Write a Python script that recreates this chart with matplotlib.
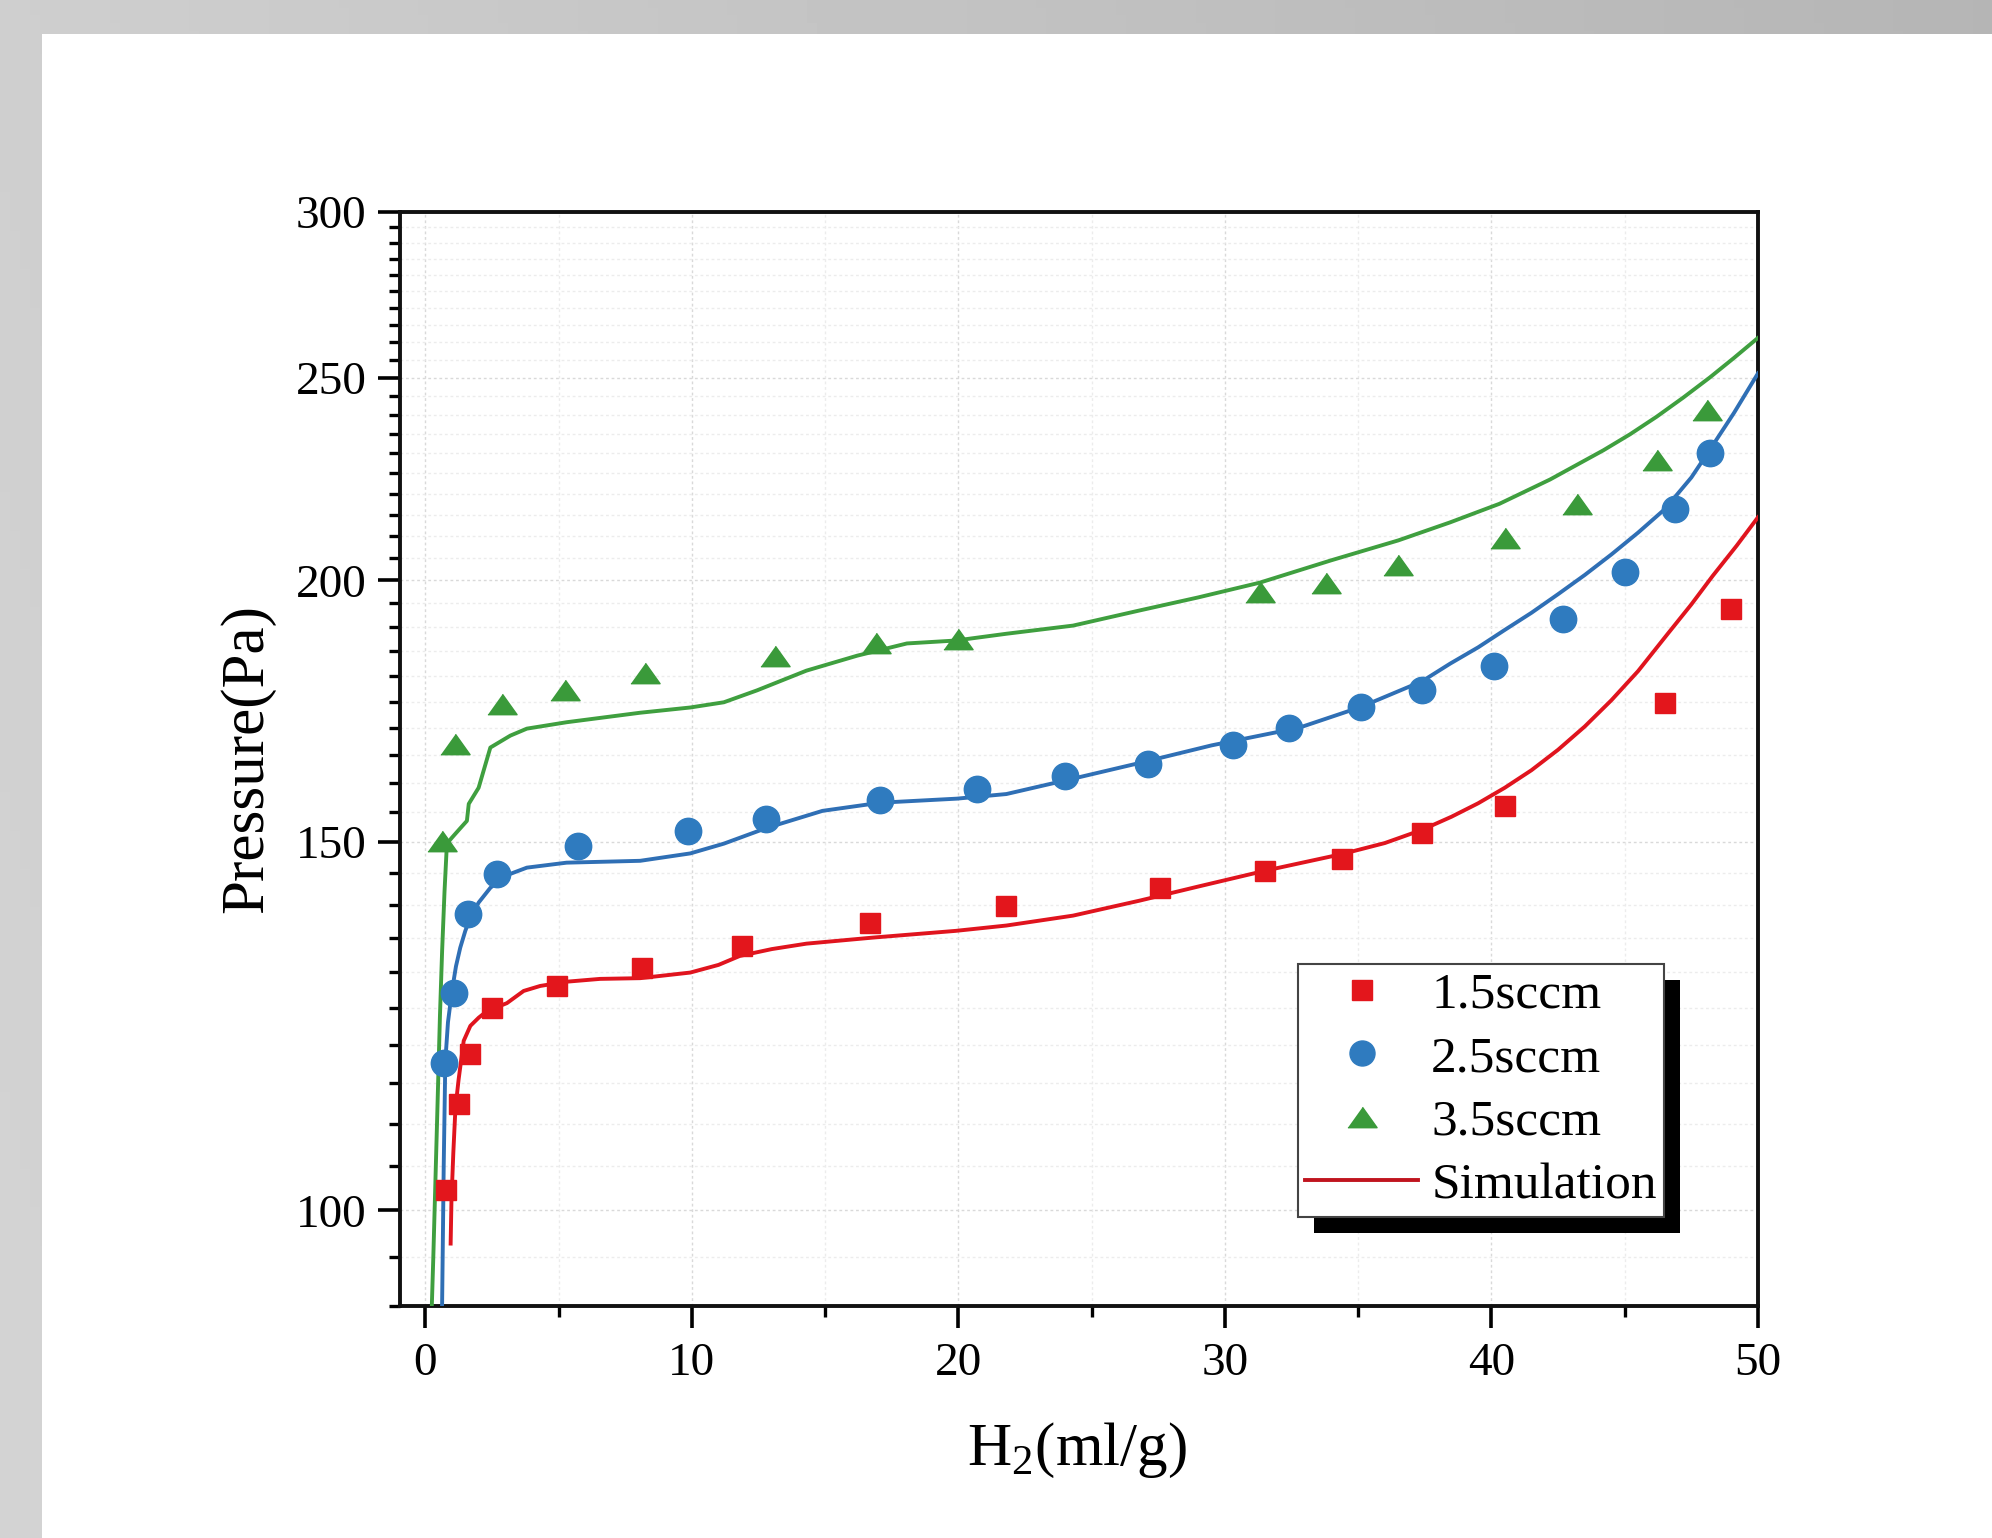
import numpy as np
import matplotlib
matplotlib.use("Agg")
import matplotlib.pyplot as plt
from matplotlib.patches import Rectangle
from matplotlib.lines import Line2D
from matplotlib.transforms import IdentityTransform
from matplotlib.ticker import FixedLocator, FuncFormatter, MultipleLocator

plt.rcParams['font.family'] = ['Liberation Serif', 'DejaVu Serif']
plt.rcParams['mathtext.fontset'] = 'custom'
plt.rcParams['mathtext.rm'] = 'Liberation Serif'

# measured points
red_x = [0.78, 1.25, 1.69, 2.5, 4.94, 8.13, 11.88, 16.69, 21.8, 27.57, 31.5, 34.4, 37.4, 40.5, 46.5, 49.0]
red_y = [102.3, 112.4, 118.7, 124.9, 128.0, 130.5, 133.8, 137.2, 139.8, 142.6, 145.3, 147.2, 151.5, 156.1, 174.7, 193.9]

blue_x = [0.69, 1.06, 1.62, 2.69, 5.74, 9.87, 12.8, 17.07, 20.7, 24.0, 27.1, 30.3, 32.4, 35.1, 37.4,
          40.1, 42.7, 45.0, 46.9, 48.2]
blue_y = [117.6, 127.0, 138.5, 144.8, 149.3, 151.8, 153.9, 157.1, 159.0, 161.3, 163.5, 166.9, 170.1, 173.9,
          177.2, 182.0, 191.6, 201.8, 216.3, 230.1]

green_x = [0.63, 1.13, 2.88, 5.25, 8.25, 13.13, 16.9, 20.0, 31.3, 33.8, 36.5, 40.5, 43.2, 46.2, 48.1]
green_y = [150.2, 167.1, 174.6, 177.2, 180.7, 184.1, 186.6, 187.6, 197.4, 199.4, 203.4, 209.5, 217.6, 228.3, 241.2]

# simulation curves
red_sim_x = [0.95, 0.98, 1.05, 1.13, 1.25, 1.44, 1.69, 2.0, 2.31, 3.06, 3.69, 4.31, 5.3, 6.56, 8.06, 9.94,
             11.0, 11.8, 13.0, 14.3, 16.8, 19.9, 21.8, 24.3, 26.8, 29.0, 31.5, 34.4, 36.0, 37.4, 38.5, 39.5,
             40.5, 41.5, 42.5, 43.5, 44.5, 45.5, 46.6, 47.5, 48.3, 49.2, 50.0]
red_sim_y = [96.4, 101.0, 106.5, 111.9, 115.5, 120.5, 122.5, 123.6, 124.5, 125.6, 127.3, 128.0, 128.6, 129.0,
             129.1, 129.9, 131.0, 132.3, 133.3, 134.1, 135.0, 136.0, 136.8, 138.3, 140.6, 142.8, 145.3, 148.0,
             149.8, 152.0, 154.2, 156.5, 159.2, 162.3, 166.0, 170.3, 175.3, 181.0, 188.5, 194.8, 201.0, 207.8,
             214.4]

blue_sim_x = [0.60, 0.63, 0.69, 0.75, 0.85, 1.0, 1.15, 1.31, 1.5, 1.69, 2.0, 2.44, 3.0, 3.81, 5.3, 8.06, 9.94,
              11.2, 12.8, 14.9, 17.07, 19.94, 21.8, 24.3, 26.8, 29.5, 32.8, 35.1, 37.4, 38.45, 39.5, 40.5,
              41.5, 42.5, 43.5, 44.5, 45.5, 46.5, 47.5, 48.2, 49.1, 50.0]
blue_sim_y = [88.0, 90.2, 105.0, 117.8, 123.0, 127.3, 130.8, 133.5, 136.0, 138.0, 140.3, 142.6, 144.5, 145.8,
              146.6, 146.9, 148.1, 149.7, 152.3, 155.2, 156.6, 157.3, 158.1, 160.8, 163.6, 166.8, 170.1, 174.0,
              179.0, 182.5, 185.8, 189.4, 193.0, 197.0, 201.2, 205.8, 210.8, 216.3, 224.0, 231.0, 240.5, 251.2]

green_sim_x = [0.22, 0.30, 0.44, 0.55, 0.63, 0.72, 0.81, 1.0, 1.3, 1.56, 1.63, 2.0, 2.44, 3.19, 3.81, 5.3, 8.06,
               9.94, 11.2, 12.44, 14.3, 16.2, 18.07, 19.9, 21.8, 24.3, 26.8, 29.0, 31.3, 34.0, 36.5, 38.45,
               40.3, 42.2, 44.2, 45.2, 46.2, 47.2, 48.2, 49.1, 50.0]
green_sim_y = [88.0, 95.0, 110.2, 124.0, 133.0, 142.0, 149.7, 150.7, 152.2, 153.5, 156.4, 159.2, 166.4, 168.6,
               169.9, 171.1, 172.9, 173.9, 174.9, 177.2, 181.1, 184.1, 186.6, 187.2, 188.6, 190.3, 193.5, 196.3,
               199.5, 204.5, 209.0, 213.2, 217.6, 223.5, 230.8, 234.9, 239.5, 244.6, 250.1, 255.5, 261.2]

labels = ['1.5sccm', '2.5sccm', '3.5sccm', 'Simulation']
y_major = [100, 150, 200, 250, 300]

W, H = 1992, 1538
fig = plt.figure(figsize=(W / 100, H / 100), dpi=100)

# grey backdrop with white panel
bg = fig.add_axes([0, 0, 1, 1], zorder=-10)
gx = np.linspace(0, 1, 200)
gy = np.linspace(0, 1, 200)
GX, GY = np.meshgrid(gx, gy)
grad = 0.81 - 0.10 * GX + 0.02 * GY
bg.imshow(grad, extent=[0, 1, 0, 1], aspect='auto', cmap='gray', vmin=0, vmax=1, origin='upper')
bg.add_patch(Rectangle((42 / W, 0), 1, 1 - 34 / H, color='white', lw=0))
bg.set_xlim(0, 1)
bg.set_ylim(0, 1)
bg.axis('off')

ax = fig.add_axes([400 / W, 1 - 1306 / H, 1358 / W, 1094 / H])
ax.set_facecolor('white')

red_c, blue_c, green_c = '#e3161c', '#2f7bbf', '#3a9a3a'
tri = [(-1, -0.7), (1, -0.7), (0, 0.7)]

ax.plot(red_sim_x, red_sim_y, color='#e0141e', lw=2.8, zorder=3)
ax.plot(blue_sim_x, blue_sim_y, color='#2f6fb5', lw=2.8, zorder=3)
ax.plot(green_sim_x, green_sim_y, color='#3f9f3f', lw=2.8, zorder=3)

ax.plot(red_x, red_y, ls='none', marker='s', ms=15, color=red_c, mec=red_c, zorder=4)
ax.plot(blue_x, blue_y, ls='none', marker='o', ms=19, color=blue_c, mec=blue_c, zorder=4)
ax.plot(green_x, green_y, ls='none', marker=tri, ms=21, color=green_c, mec=green_c, zorder=4)

ax.set_yscale('log')
ax.set_xlim(-0.95, 50)
ax.set_ylim(90, 300)

ax.xaxis.set_major_locator(MultipleLocator(10))
ax.xaxis.set_minor_locator(MultipleLocator(5))
ax.yaxis.set_major_locator(FixedLocator(y_major))
ax.yaxis.set_minor_locator(FixedLocator([v for v in range(90, 301, 5) if v not in y_major]))
ax.yaxis.set_major_formatter(FuncFormatter(lambda v, p: '%d' % v))
ax.yaxis.set_minor_formatter(FuncFormatter(lambda v, p: ''))

ax.tick_params(which='major', direction='out', length=16, width=2.6, labelsize=34, pad=8)
ax.tick_params(which='minor', direction='out', length=8, width=2.4)
ax.tick_params(axis='x', which='major', pad=10)

ax.grid(True, which='major', color='#d9d9d9', lw=1.0, ls=(0, (2, 2)))
ax.grid(True, which='minor', color='#ececec', lw=1.0, ls=(0, (2, 2)))
ax.set_axisbelow(True)

for s in ax.spines.values():
    s.set_linewidth(2.8)
    s.set_color('#111111')

ax.set_xlabel('H$_2$(ml/g)', fontsize=44)
ax.set_ylabel('Pressure(Pa)', fontsize=44)
ax.xaxis.set_label_coords(0.4985, -0.105)
ax.yaxis.set_label_coords(-0.092, 0.5)

handles = [
    Line2D([], [], ls='none', marker='s', ms=15, color=red_c),
    Line2D([], [], ls='none', marker='o', ms=18, color=blue_c),
    Line2D([], [], ls='none', marker=tri, ms=21, color=green_c),
    Line2D([], [], color='#c0141e', lw=2.8),
]
leg = ax.legend(handles, labels, loc='lower left', bbox_to_anchor=(0.661, 0.0814), borderaxespad=0,
                fontsize=37, frameon=True, fancybox=False, edgecolor='#444444', framealpha=1,
                handlelength=2.2, handletextpad=0.25, borderpad=0.15, labelspacing=0.32)
leg.get_frame().set_linewidth(1.5)
leg.set_zorder(6)

# offset black shadow behind the legend box
fig.canvas.draw()
bb = leg.get_window_extent()
off = 16
shadow = Rectangle((bb.x0 + off, bb.y0 - off), bb.width, bb.height, transform=IdentityTransform(),
                   facecolor='black', edgecolor='none', zorder=5.5, clip_on=False)
ax.add_artist(shadow)

fig.savefig('out.png', dpi=100)
